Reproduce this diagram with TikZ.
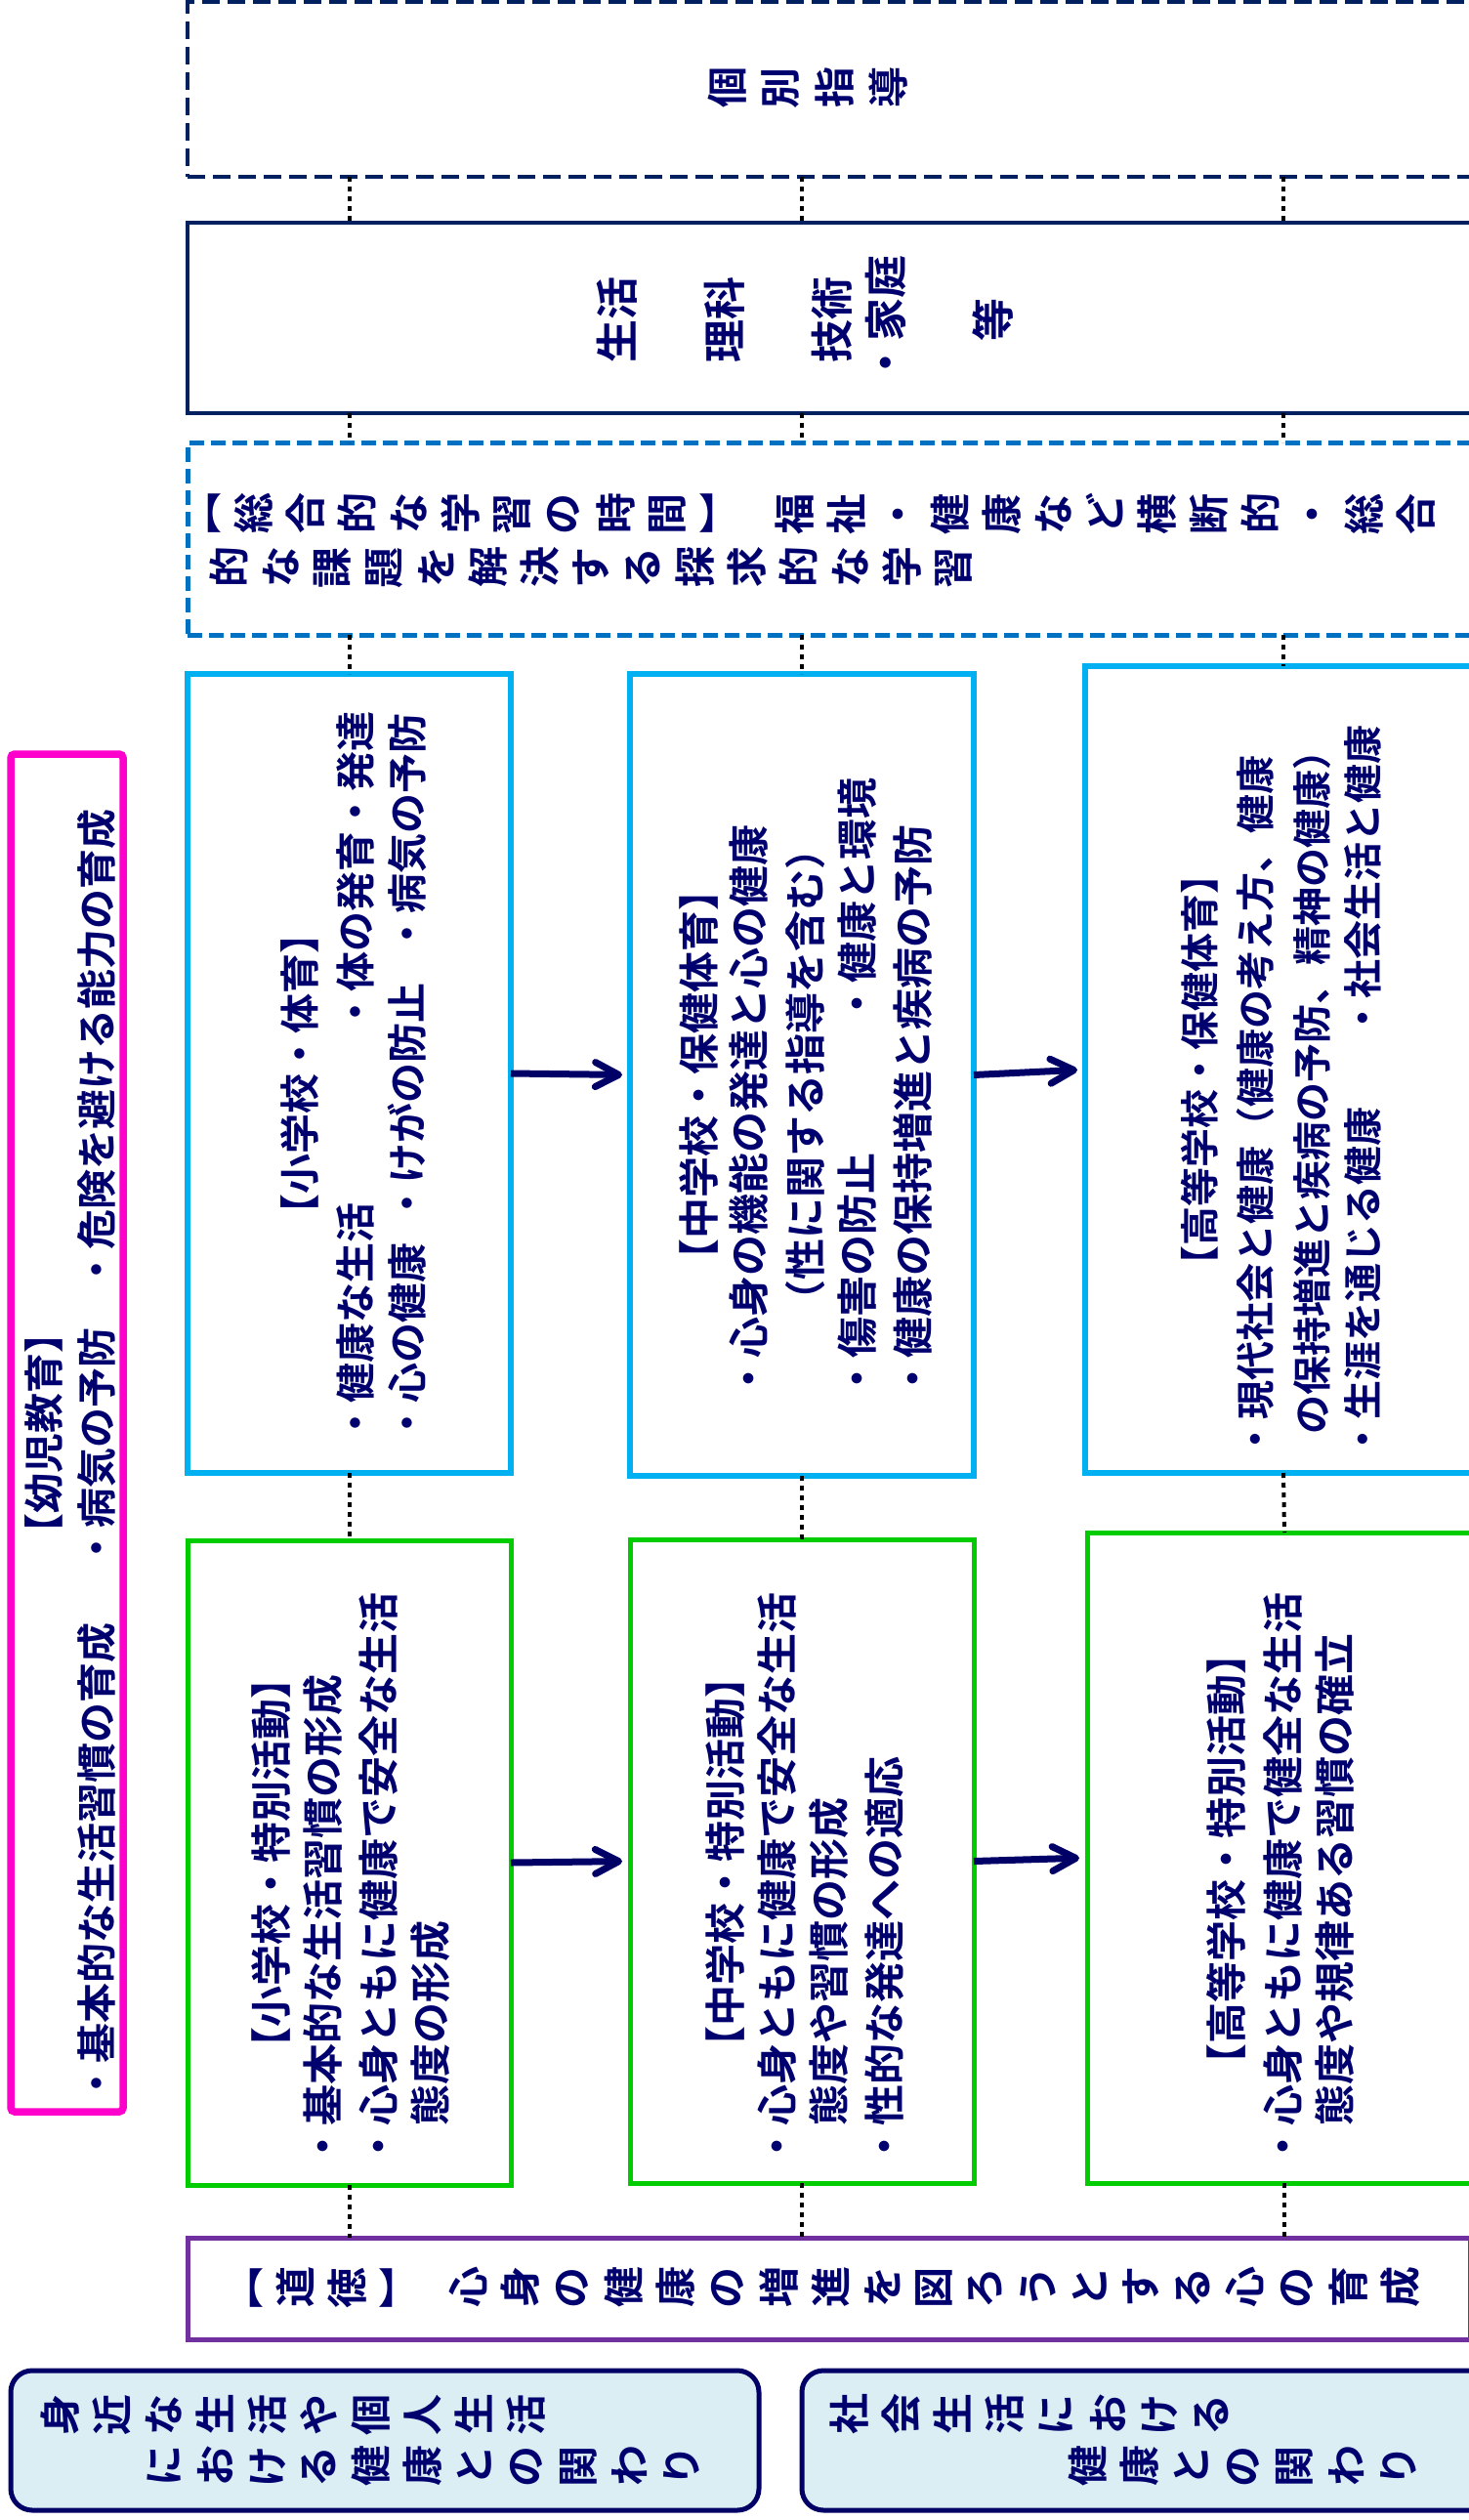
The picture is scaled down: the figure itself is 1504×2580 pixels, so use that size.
\documentclass[tikz,border=0pt]{standalone}
\usepackage{fontspec}
\newfontfamily\jp{Noto Sans CJK JP Bold}
\usetikzlibrary{arrows.meta,fit}

\definecolor{txtnavy}{RGB}{0,0,110}
\definecolor{navybox}{RGB}{0,32,96}
\definecolor{arrnavy}{RGB}{0,0,102}
\definecolor{sogoblue}{RGB}{0,112,192}
\definecolor{cyanbox}{RGB}{0,176,240}
\definecolor{greenbox}{RGB}{0,204,0}
\definecolor{pinkbox}{RGB}{255,0,204}
\definecolor{purplebox}{RGB}{112,48,160}
\definecolor{lightfill}{RGB}{218,238,243}

% one turned character per fixed pitch (brackets and dots stay as they are)
\newlength\kumipitch
\newcommand\kumi[2]{\setlength\kumipitch{#1}\kumiloop#2\relax}
\def\kumiloop#1{\ifx#1\relax\else\kumichar{#1}\expandafter\kumiloop\fi}
\def\kumichar#1{\makebox[\kumipitch]{\ifx#1【#1\else\ifx#1】#1\else\ifx#1・#1\else\rotatebox[origin=c]{90}{#1}\fi\fi\fi}}

\tikzset{
  frame/.style={inner sep=0pt, outer sep=0pt},
  dashnavy/.style={frame, draw=navybox, line width=2pt, dash pattern=on 9pt off 4pt},
  solidnavy/.style={frame, draw=navybox, line width=2pt},
  dashsogo/.style={frame, draw=sogoblue, line width=2.5pt, dash pattern=on 7.5pt off 3.5pt},
  bluebox/.style={frame, draw=cyanbox, line width=3.25pt},
  greenbx/.style={frame, draw=greenbox, line width=2.5pt},
  pinkbx/.style={frame, draw=pinkbox, line width=3.75pt, rounded corners=2pt},
  purplebx/.style={frame, draw=purplebox, line width=2.5pt},
  roundbx/.style={frame, draw=arrnavy, fill=lightfill, line width=2.5pt, rounded corners=11pt},
  rtxt/.style={rotate=90, anchor=west, inner sep=0pt, text=txtnavy, font=\jp\fontsize{#1}{#1}\selectfont},
  rtxt/.default=21pt,
  utxt/.style={anchor=west, inner sep=0pt, text=txtnavy, font=\jp\fontsize{21pt}{21pt}\selectfont},
  dotline/.style={draw=black, line width=2pt, dash pattern=on 2.5pt off 2.5pt},
  arr/.style={draw=arrnavy, line width=3.5pt, -{Straight Barb[length=12pt,width=12.5pt,round]}, shorten >=4pt}
}

\begin{document}
\begin{tikzpicture}[x=0.5pt,y=0.5pt]
  \useasboundingbox (0,0) rectangle (1504,-2580);
  \clip (0,0) rectangle (1504,-2580);
  \fill[white] (0,0) rectangle (1504,-2580);

  % wide boxes
  \node[dashnavy, fit={(192,-2.5) (1510,-181)}] (kobetsu) {};
  \node[solidnavy, fit={(192,-228) (1510,-423)}] (seikatsu) {};
  \node[dashsogo, fit={(192,-453) (1510,-650)}] (sogo) {};
  \node[purplebx, fit={(192,-2291) (1505,-2395)}] (doutoku) {};

  % school boxes
  \node[pinkbx, fit={(11,-772) (126,-2162)}] (youji) {};
  \node[bluebox, fit={(192,-690) (523,-1508)}] (shoTai) {};
  \node[bluebox, fit={(645,-690) (997,-1511)}] (chuHo) {};
  \node[bluebox, fit={(1111,-682) (1517,-1508)}] (koHo) {};
  \node[greenbx, fit={(192,-1577) (523,-2237)}] (shoTok) {};
  \node[greenbx, fit={(645,-1576) (997,-2235)}] (chuTok) {};
  \node[greenbx, fit={(1113,-1569) (1517,-2235)}] (koTok) {};

  % bottom boxes
  \node[roundbx, fit={(11,-2427) (777,-2570)}] (mijika) {};
  \node[roundbx, fit={(821,-2427) (1540,-2570)}] (shakai) {};

  % dotted links
  \foreach \c in {shoTai,chuHo,koHo} {
    \draw[dotline] (\c.north |- kobetsu.south) -- (\c.north |- seikatsu.north);
    \draw[dotline] (\c.north |- seikatsu.south) -- (\c.north |- sogo.north);
    \draw[dotline] (\c.north |- sogo.south) -- (\c.north);
  }
  \draw[dotline] (shoTai.south) -- (shoTok.north);
  \draw[dotline] (chuHo.south) -- (chuTok.north);
  \draw[dotline] (koHo.south) -- (koTok.north);
  \foreach \c in {shoTok,chuTok,koTok}
    \draw[dotline] (\c.south) -- (\c.south |- doutoku.north);

  % arrows
  \draw[arr] (shoTai.east) -- (chuHo.west);
  \draw[arr] (chuHo.east) -- (koHo.west);
  \draw[arr] (shoTok.east) -- (chuTok.west);
  \draw[arr] (chuTok.east) -- (koTok.west);

  % top rows
  \node[utxt] (kobetsuT) at (716.5,-90) {\kumi{27.5pt}{個別指導}};
  \node[rtxt, anchor=center, align=center, font=\jp\fontsize{22pt}{27.5pt}\selectfont] (seikatsuT) at (824.5,-327)
    {生活\\[27.5pt]理科\\[27.5pt]技術\\・家庭\\[27.5pt]等};
  \node[utxt] (sogoA) at (179.5,-526) {\kumi{26.5pt}{【総合的な学習の時間】}};
  \node[utxt] (sogoB) at (786.5,-526) {\kumi{26.5pt}{福祉・健康など横断的・総合}};
  \node[utxt] (sogoC) at (207.5,-581) {\kumi{26.5pt}{的な課題を解決する探求的な学習}};

  % 幼児教育
  \node[rtxt=20.5pt, anchor=center] (youjiH) at (45,-1467) {【幼児教育】};
  \node[rtxt=20.5pt] (youjiA) at (99,-2154) {・基本的な生活習慣の育成};
  \node[rtxt=20.5pt] (youjiB) at (99,-1606) {・病気の予防};
  \node[rtxt=20.5pt] (youjiC) at (99,-1321) {・危険を避ける能力の育成};

  % 小学校・体育
  \node[rtxt=20.5pt, anchor=center] (shoTaiH) at (307,-1099) {【小学校・体育】};
  \node[rtxt=20.5pt] (shoTaiA) at (364,-1478) {・健康な生活};
  \node[rtxt=20.5pt] (shoTaiB) at (364,-1057) {・体の発育・発達};
  \node[rtxt=20.5pt] (shoTaiC) at (417,-1478) {・心の健康};
  \node[rtxt=20.5pt] (shoTaiD) at (417,-1253) {・けがの防止};
  \node[rtxt=20.5pt] (shoTaiE) at (417,-977) {・病気の予防};

  % 中学校・保健体育
  \node[rtxt, anchor=center] (chuHoH) at (715,-1100) {【中学校・保健体育】};
  \node[rtxt] (chuHoA) at (767,-1433) {・心身の機能の発達と心の健康};
  \node[rtxt, anchor=center] (chuHoB) at (825,-1100) {（性に関する指導を含む）};
  \node[rtxt] (chuHoC) at (878,-1433) {・傷害の防止};
  \node[rtxt] (chuHoD) at (878,-1049) {・健康と環境};
  \node[rtxt] (chuHoE) at (935,-1433) {・健康の保持増進と疾病の予防};

  % 高等学校・保健体育
  \node[rtxt=20pt, anchor=center] (koHoH) at (1228,-1095) {【高等学校・保健体育】};
  \node[rtxt=20pt] (koHoA) at (1285,-1494) {・現代社会と健康（健康の考え方、健康};
  \node[rtxt=20pt] (koHoB) at (1343,-1469) {の保持増進と疾病の予防、精神の健康）};
  \node[rtxt=20pt] (koHoC) at (1395,-1494) {・生涯を通じる健康};
  \node[rtxt=20pt] (koHoD) at (1395,-1063) {・社会生活と健康};

  % 特別活動
  \node[rtxt, anchor=center] (shoTokH) at (278,-1907) {【小学校・特別活動】};
  \node[rtxt] (shoTokA) at (331,-2219) {・基本的な生活習慣の形成};
  \node[rtxt] (shoTokB) at (388,-2219) {・心身ともに健康で安全な生活};
  \node[rtxt] (shoTokC) at (441,-2177) {態度の形成};

  \node[rtxt, anchor=center] (chuTokH) at (743,-1906) {【中学校・特別活動】};
  \node[rtxt] (chuTokA) at (796,-2219) {・心身ともに健康で安全な生活};
  \node[rtxt] (chuTokB) at (849,-2177) {態度や習慣の形成};
  \node[rtxt] (chuTokC) at (906,-2219) {・性的な発達への適応};

  \node[rtxt, anchor=center] (koTokH) at (1256,-1903) {【高等学校・特別活動】};
  \node[rtxt] (koTokA) at (1314,-2219) {・心身ともに健康で健全な生活};
  \node[rtxt] (koTokB) at (1367,-2177) {態度や規律ある習慣の確立};

  % 道徳
  \node[utxt] (doutokuA) at (222.5,-2342) {\kumi{26.5pt}{【道徳】}};
  \node[utxt] (doutokuB) at (452.5,-2342) {\kumi{26.5pt}{心身の健康の増進を図ろうとする心の育成}};

  % bottom labels
  \node[utxt] (mijikaA) at (34.5,-2472) {\kumi{26.5pt}{身近な生活や個人生活}};
  \node[utxt] (mijikaB) at (141,-2525) {\kumi{26.5pt}{における健康との関わり}};
  \node[utxt] (shakaiA) at (842.5,-2472) {\kumi{26.5pt}{社会生活における}};
  \node[utxt] (shakaiB) at (1086.5,-2525) {\kumi{26.5pt}{健康との関わり}};
\end{tikzpicture}
\end{document}
